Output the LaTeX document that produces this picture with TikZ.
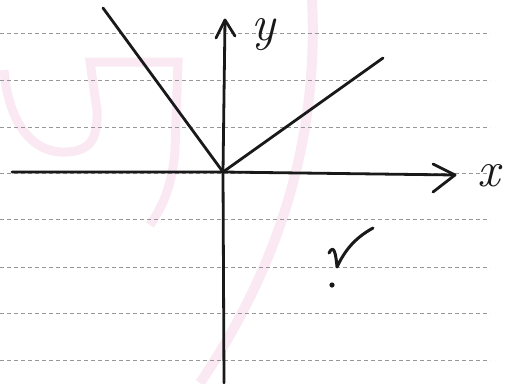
\documentclass[tikz,border=0pt]{standalone}
\usetikzlibrary{arrows.meta}
\definecolor{ink}{RGB}{25,25,25}
\definecolor{ruling}{RGB}{150,150,150}
\definecolor{wm}{RGB}{250,233,243}
\begin{document}
\begin{tikzpicture}[x=1pt,y=-1pt,
  rule/.style={ruling,line width=0.9pt,dash pattern=on 4pt off 3pt},
  pen/.style={ink,line width=2.8pt,line cap=round,line join=round},
  lbl/.style={ink,inner sep=0pt,anchor=base,font=\fontsize{50}{50}\selectfont\itshape}]
\useasboundingbox (0,0) rectangle (510,383);
\fill[white] (0,0) rectangle (510,383);
% watermark
\draw[wm,line width=10pt] (312,0) .. controls (318,120) and (290,250) .. (200,383);
\draw[wm,line width=9pt] (4,70) .. controls (8,120) and (30,150) .. (60,152)
   .. controls (90,153) and (98,140) .. (97,110) -- (90,62) -- (178,62) -- (175,150)
   .. controls (172,190) and (160,210) .. (150,225);
% ruled lines
\foreach \yy in {33,80,127,173,219,267,313,360}
  \draw[rule] (0,\yy) -- (490,\yy);
% named points
\coordinate (O) at (223,172);
\coordinate (xl) at (12,172);
\coordinate (xr) at (455,175);
\coordinate (yb) at (224,383);
\coordinate (yt) at (225,20);
\coordinate (L) at (103,8);
\coordinate (R) at (383,58);
% axes
\draw[pen] (xl) -- (O) -- (xr);
\draw[pen] (yb) -- (O) -- (yt);
\draw[pen] (433,164) -- (xr) -- (433,192);
\draw[pen] (216,38) -- (yt) -- (235,36);
% graph
\draw[pen] (L) -- (O) -- (R);
% labels
\node[lbl] (ylab) at (263,40) {y};
\node[lbl] (xlab) at (489,186) {x};
% tick mark
\draw[pen,line width=3pt] (329,253) .. controls (334,243) and (336,255) .. (337,267)
  .. controls (345,250) and (355,238) .. (373,228);
\fill[ink] (332,285) circle (2.6);
\end{tikzpicture}
\end{document}
